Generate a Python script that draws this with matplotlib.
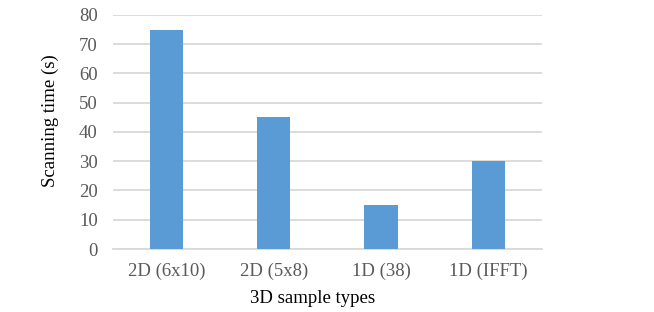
import matplotlib
matplotlib.use("Agg")
import matplotlib.pyplot as plt

categories = ["2D (6x10)", "2D (5x8)", "1D (38)", "1D (IFFT)"]
values = [75, 45, 15, 30]
yticks = [0, 10, 20, 30, 40, 50, 60, 70, 80]

plt.rcParams['font.family'] = ['Liberation Serif', 'DejaVu Serif']

fig = plt.figure(figsize=(6.54, 3.12), dpi=100)
ax = fig.add_axes([0.1728, 0.2019, 0.6559, 0.7501])
x = list(range(len(categories)))
ax.bar(x, values, width=0.31, color="#5B9BD5", zorder=3)
ax.set_xlim(-0.5, len(categories) - 0.5)
ax.set_ylim(0, 80)
ax.set_yticks(yticks)
ax.set_xticks(x)
ax.set_xticklabels(categories)
ax.yaxis.grid(True, color="#d9d9d9", linewidth=1.3, zorder=0)
for s in ["top", "right", "left"]:
    ax.spines[s].set_visible(False)
ax.spines["bottom"].set_color("#d9d9d9")
ax.spines["bottom"].set_linewidth(1.3)
ax.tick_params(axis="both", length=0, labelsize=13.5, labelcolor="#595959")
ax.tick_params(axis="y", pad=11)
ax.tick_params(axis="x", pad=10)
ax.set_ylabel("Scanning time (s)", fontsize=13.5, labelpad=11)
ax.yaxis.set_label_coords(-0.127, 0.55)
ax.set_xlabel("3D sample types", fontsize=13.5, labelpad=8)
ax.xaxis.set_label_coords(0.466, -0.175)
fig.savefig("out.png", dpi=100)
